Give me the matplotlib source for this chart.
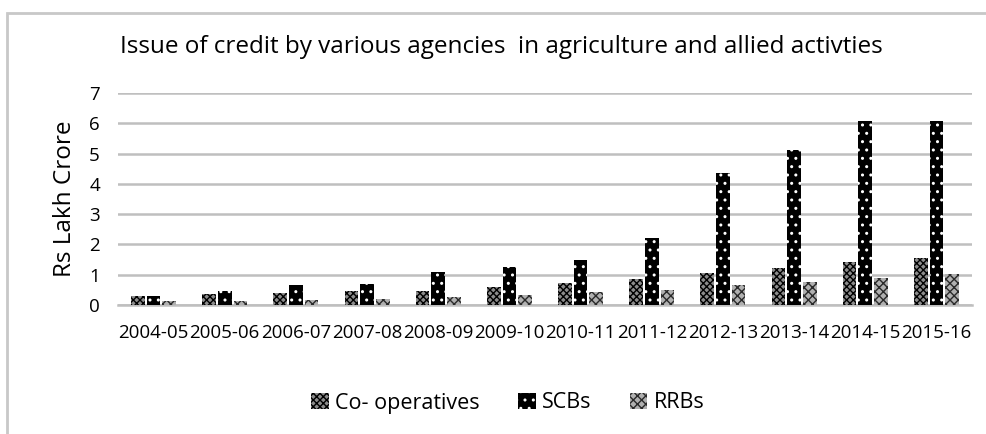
import numpy as np
import matplotlib.pyplot as plt
from matplotlib.patches import Rectangle

years = ['2004-05', '2005-06', '2006-07', '2007-08', '2008-09', '2009-10',
         '2010-11', '2011-12', '2012-13', '2013-14', '2014-15', '2015-16']
coop = [0.31, 0.35, 0.40, 0.45, 0.46, 0.60, 0.72, 0.87, 1.05, 1.22, 1.43, 1.55]
scbs = [0.30, 0.45, 0.66, 0.70, 1.10, 1.27, 1.50, 2.22, 4.35, 5.12, 6.06, 6.06]
rrbs = [0.12, 0.14, 0.16, 0.20, 0.25, 0.33, 0.42, 0.50, 0.66, 0.75, 0.89, 1.02]

plt.rcParams['font.family'] = ['Open Sans', 'DejaVu Sans']
plt.rcParams['hatch.linewidth'] = 1.0

fig = plt.figure(figsize=(9.86, 4.34), dpi=100)
ax = fig.add_axes([118 / 986, 1 - 305 / 434, 854 / 986, 212 / 434])

# outer chart border
fig.patches.append(Rectangle((7 / 986, -0.1), 1.1, 1 - 13 / 434 + 0.1,
                             transform=fig.transFigure, fill=False,
                             edgecolor='#c8c8c8', linewidth=2))

x = np.arange(len(years))
w = 0.19
ax.bar(x - 0.22, coop, w, color='#8c8c8c', edgecolor='black', hatch='xxxxx',
       linewidth=0, label='Co- operatives', zorder=3)
ax.bar(x, scbs, w, color='black', edgecolor='white', hatch='..',
       linewidth=0, label='SCBs', zorder=3)
ax.bar(x + 0.22, rrbs, w, color='#b0b0b0', edgecolor='#2a2a2a', hatch='xxxx',
       linewidth=0, label='RRBs', zorder=3)

ax.set_xlim(-0.5, len(years) - 0.5)
ax.set_ylim(0, 7)
ax.set_yticks(range(8))
ax.yaxis.grid(True, color='#bfbfbf', linewidth=1.8)
ax.set_axisbelow(True)
for s in ['top', 'right', 'left']:
    ax.spines[s].set_visible(False)
ax.spines['bottom'].set_color('#bfbfbf')
ax.spines['bottom'].set_linewidth(1.8)
ax.tick_params(length=0, labelsize=13.5, pad=14)
ax.tick_params(axis='y', pad=13)
ax.set_xticks(x)
ax.set_xticklabels(years)
ax.set_ylabel('Rs Lakh Crore', fontsize=17.5, labelpad=9)

fig.text(120 / 986, 1 - 47 / 434, 'Issue of credit by various agencies  in agriculture and allied activties',
         fontsize=17.5, va='center', ha='left')

fig.legend(loc='center', bbox_to_anchor=(508 / 986, 1 - 403 / 434), ncol=3,
           frameon=False, fontsize=15.5, handlelength=0.8, handleheight=0.8,
           handletextpad=0.3, columnspacing=1.8)

fig.savefig('out.png', dpi=100)
